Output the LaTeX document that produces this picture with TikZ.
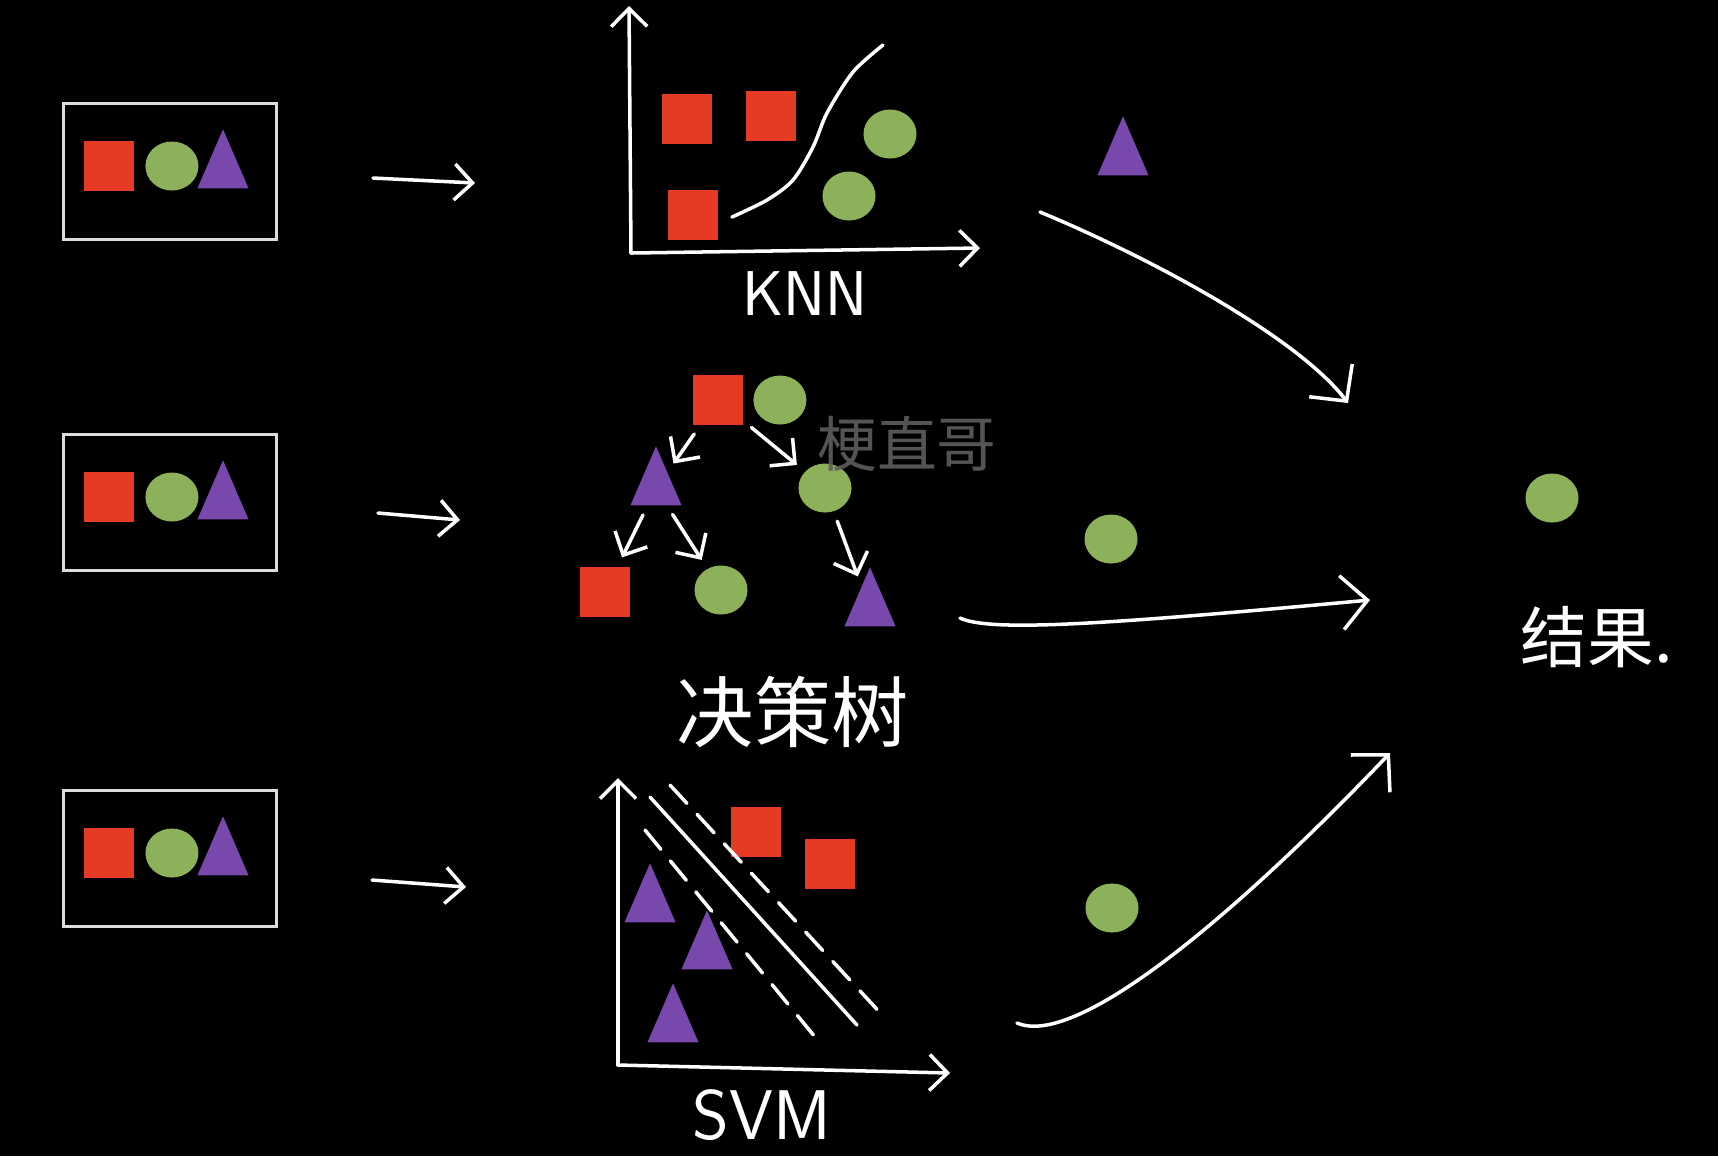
\documentclass[tikz,border=0pt]{standalone}
\usepackage{fontspec}
\newfontfamily\cjk{Noto Sans CJK SC}
\usetikzlibrary{arrows.meta,positioning,shapes.geometric}
\definecolor{SRed}{HTML}{E53A24}
\definecolor{SGreen}{HTML}{8DB05A}
\definecolor{SPurple}{HTML}{7848AC}
\definecolor{SFrame}{HTML}{DDDDDD}
\definecolor{SMark}{HTML}{5E5E5E}

\begin{document}
\begin{tikzpicture}[
  x=0.01cm,y=-0.01cm,
  sq/.style={fill=SRed,minimum size=0.5cm,inner sep=0pt},
  dot/.style={ellipse,fill=SGreen,minimum width=0.53cm,minimum height=0.49cm,inner sep=0pt},
  tri/.style={isosceles triangle,isosceles triangle stretches,fill=SPurple,rotate=90,
    anchor=lower side,minimum width=0.51cm,minimum height=0.59cm,inner sep=0pt},
  inbox/.style={draw=SFrame,line width=0.85pt,minimum width=2.13cm,minimum height=1.35cm,inner sep=0pt},
  chalk/.style={white,line width=1pt,line cap=round,line join=round},
  a/.style={chalk,-{Straight Barb[length=1.8mm,width=3.6mm]}},
  ta/.style={a,shorten <=0.1cm,shorten >=0.1cm},
  big/.style={chalk,-{Straight Barb[length=2.6mm,width=5.4mm]}},
  lbl/.style={white,font=\sffamily\fontsize{18}{20}\selectfont},
  hz/.style={white,font=\cjk\fontsize{22}{24}\selectfont}
]
  \useasboundingbox (0,0) rectangle (1718,1156);
  \fill[black] (0,0) rectangle (1718,1156);

  % input samples
  \foreach \n/\y in {a/104,b/435,c/791}{
    \node[inbox] (box\n) at (170,{\y+67.5}) {};
    \node[sq] (bs\n) at (109,{\y+62}) {};
    \node[dot,right=0.1cm of bs\n] (bc\n) {};
    \node[tri] (bt\n) at (223,{\y+85}) {};
  }
  \coordinate (sa) at (373,178); \coordinate (ea) at (475,183);
  \coordinate (sb) at (378,513); \coordinate (eb) at (460,520);
  \coordinate (sc) at (372,880); \coordinate (ec) at (466,887);
  \foreach \n in {a,b,c}
    {\draw[a] (s\n) -- (e\n);}

  % KNN
  \coordinate (ko) at (631,253);
  \coordinate (ky) at (629,6);
  \coordinate (kx) at (980,248);
  \draw[a] (ko) -- (ky);
  \draw[a] (ko) -- (kx);
  \node[sq] (k1) at (687,119) {};
  \node[sq] (k2) at (771,116) {};
  \node[sq] (k3) at (693,215) {};
  \node[dot] (k4) at (890,134) {};
  \node[dot] (k5) at (849,196) {};
  \draw[chalk] plot[smooth] coordinates {(732,217) (767,200) (793,180) (813,147) (827,113) (853,72) (883,45)};
  \node[lbl] (knn) at (805,294) {KNN};

  % decision tree
  \node[sq] (root) at (718,400) {};
  \node[dot,right=0.09cm of root] (rootc) {};
  \node[tri] (tl) at (656,506) {};
  \node[dot] (cr) at (825,488) {};
  \node[sq] (ll) at (605,592) {};
  \node[dot] (lr) at (721,590) {};
  \node[tri] (rr) at (870,627) {};
  \foreach \x/\y in {root/tl,root/cr,tl/ll,tl/lr,cr/rr}
    {\draw[ta] (\x) -- (\y);}
  \node[hz] (dt) at (793,712) {决策树};
  \node[text=SMark,opacity=0.9,font=\cjk\fontsize{17}{17}\selectfont] (mark) at (907,444) {梗直哥};

  % SVM
  \coordinate (so) at (618,1065);
  \coordinate (sy) at (618,778);
  \coordinate (sx) at (950,1073);
  \draw[a] (so) -- (sy);
  \draw[a] (so) -- (sx);
  \node[sq] (s1) at (756,832) {};
  \node[sq] (s2) at (830,864) {};
  \node[tri] (s3) at (650,923) {};
  \node[tri] (s4) at (707,970) {};
  \node[tri] (s5) at (673,1043) {};
  \draw[chalk] (650,797) -- (857,1025);
  \draw[chalk,dash pattern=on 0.25cm off 0.15cm] (670,785) -- (885,1018);
  \draw[chalk,dash pattern=on 0.25cm off 0.15cm] (645,830) -- (820,1043);
  \node[lbl,font=\sffamily\fontsize{20}{22}\selectfont] (svm) at (762,1115) {SVM};

  % votes and result
  \node[tri] (va) at (1123,176) {};
  \node[dot] (vb) at (1111,539) {};
  \node[dot] (vc) at (1112,908) {};
  \node[dot] (res) at (1552,498) {};
  \node[hz,font=\cjk\fontsize{19}{21}\selectfont] (reslbl) at (1597,637) {结果.};

  \coordinate (ka) at (1040,212); \coordinate (ra) at (1348,403);
  \coordinate (kb) at (960,618);  \coordinate (rb) at (1370,600);
  \coordinate (kc) at (1017,1023); \coordinate (rc) at (1390,753);
  \draw[big] (ka) .. controls (1160,262) and (1300,340) .. (ra);
  \draw[big] (kb) .. controls (990,632) and (1100,625) .. (rb);
  \draw[big] (kc) .. controls (1080,1050) and (1250,900) .. (rc);
\end{tikzpicture}
\end{document}
